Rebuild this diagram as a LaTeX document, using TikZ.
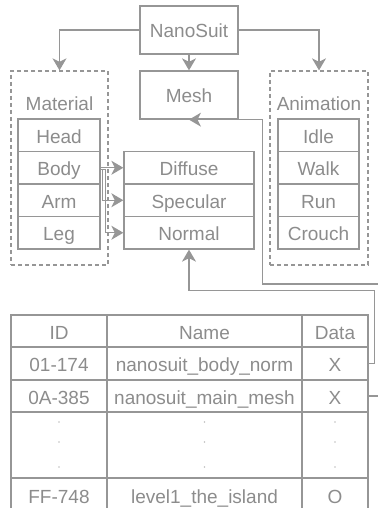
\documentclass[tikz,border=0pt]{standalone}
\usepackage{fontspec}
\setmainfont{Liberation Sans}
\usetikzlibrary{arrows.meta}
\definecolor{ln}{RGB}{150,150,150}
\definecolor{tx}{RGB}{140,140,140}
\begin{document}
\begin{tikzpicture}[x=1pt,y=-1pt,
 box/.style={draw=ln,line width=1.3pt,text=tx,inner sep=0pt,text height=15.5pt,text depth=0pt,font=\fontsize{19}{22}\selectfont},
 cell/.style={box,text height=16.5pt},
 dbox/.style={draw=ln,line width=1.3pt,dash pattern=on 4pt off 3pt,inner sep=0pt},
 lbl/.style={text=tx,inner sep=0pt,text height=15.5pt,text depth=0pt,font=\fontsize{19}{22}\selectfont},
 con/.style={draw=ln,line width=1.3pt,-{Stealth[length=12pt,width=14pt,inset=3.5pt]}},
 wire/.style={draw=ln,line width=1.3pt},
 dot/.style={circle,fill=ln!60,inner sep=0pt,minimum size=1.8pt}
]
\useasboundingbox (0,0) rectangle (377,508);

% top
\node[box,minimum width=98pt,minimum height=48pt] (nano) at (189,30) {NanoSuit};
\node[box,minimum width=98pt,minimum height=48pt] (mesh) at (189,95) {Mesh};

% dashed groups
\node[dbox,minimum width=97pt,minimum height=194pt] (mat) at (59.5,168) {};
\node[dbox,minimum width=98pt,minimum height=194pt] (ani) at (319,168) {};
\node[lbl] (matl) at (59.5,103) {Material};
\node[lbl] (anil) at (319,103) {Animation};

% material items
\node[box,minimum width=82pt,minimum height=32.5pt] (head) at (59,135.25) {Head};
\node[box,minimum width=82pt,minimum height=32.5pt] (body) at (59,167.75) {Body};
\node[box,minimum width=82pt,minimum height=32.5pt] (arm)  at (59,200.25) {Arm};
\node[box,minimum width=82pt,minimum height=32.5pt] (leg)  at (59,232.75) {Leg};

% animation items
\node[box,minimum width=81pt,minimum height=32.5pt] (idle)   at (318.5,135.25) {Idle};
\node[box,minimum width=81pt,minimum height=32.5pt] (walk)   at (318.5,167.75) {Walk};
\node[box,minimum width=81pt,minimum height=32.5pt] (run)    at (318.5,200.25) {Run};
\node[box,minimum width=81pt,minimum height=32.5pt] (crouch) at (318.5,232.75) {Crouch};

% textures
\node[box,minimum width=130pt,minimum height=32.5pt] (diff) at (189,167.75) {Diffuse};
\node[box,minimum width=130pt,minimum height=32.5pt] (spec) at (189,200.25) {Specular};
\node[box,minimum width=130pt,minimum height=32.5pt] (norm) at (189,232.75) {Normal};

% table
\node[cell,minimum width=96pt,minimum height=32pt] (hid)   at (59,331) {ID};
\node[cell,minimum width=195pt,minimum height=32pt] (hname) at (204.5,331) {Name};
\node[cell,minimum width=66pt,minimum height=32pt] (hdata) at (335,331) {Data};

\node[cell,minimum width=96pt,minimum height=33pt] (r1i) at (59,363.5) {01-174};
\node[cell,minimum width=195pt,minimum height=33pt] (r1n) at (204.5,363.5) {nanosuit\_body\_norm};
\node[cell,minimum width=66pt,minimum height=33pt] (r1d) at (335,363.5) {X};

\node[cell,minimum width=96pt,minimum height=32pt] (r2i) at (59,396) {0A-385};
\node[cell,minimum width=195pt,minimum height=32pt] (r2n) at (204.5,396) {nanosuit\_main\_mesh};
\node[cell,minimum width=66pt,minimum height=32pt] (r2d) at (335,396) {X};

\node[cell,minimum width=96pt,minimum height=66pt] (r3i) at (59,445) {};
\node[cell,minimum width=195pt,minimum height=66pt] (r3n) at (204.5,445) {};
\node[cell,minimum width=66pt,minimum height=66pt] (r3d) at (335,445) {};
\foreach \x/\n in {59/a,204.5/b,335/c}{
  \node[dot] (d1\n) at (\x,422) {};
  \node[dot] (d2\n) at (\x,442) {};
  \node[dot] (d3\n) at (\x,467) {};
}

\node[cell,minimum width=96pt,minimum height=34pt] (r4i) at (59,495) {FF-748};
\node[cell,minimum width=195pt,minimum height=34pt] (r4n) at (204.5,495) {level1\_the\_island};
\node[cell,minimum width=66pt,minimum height=34pt] (r4d) at (335,495) {O};

% connectors
\draw[con] (nano.west) -| (mat.north);
\draw[con] (nano.south) -- (mesh.north);
\draw[con] (nano.east) -| (ani.north);

\draw[con] (body.east) -- (diff.west);
\draw[con] ([yshift=-2pt]body.east) -- ++(2,0) |- (spec.west);
\draw[con] ([yshift=-2pt]body.east) -- ++(4.5,0) |- (norm.west);

\coordinate (offA) at (380,284);
\draw[wire] (r2d.east) -- ++(12,0);
\draw[con] (offA) -| ([xshift=24pt]mesh.south east) -- (mesh.south);

\draw[con] (r1d.east) -- ++(6,0) |- ([yshift=-41pt]norm.south) -- (norm.south);
\end{tikzpicture}
\end{document}
